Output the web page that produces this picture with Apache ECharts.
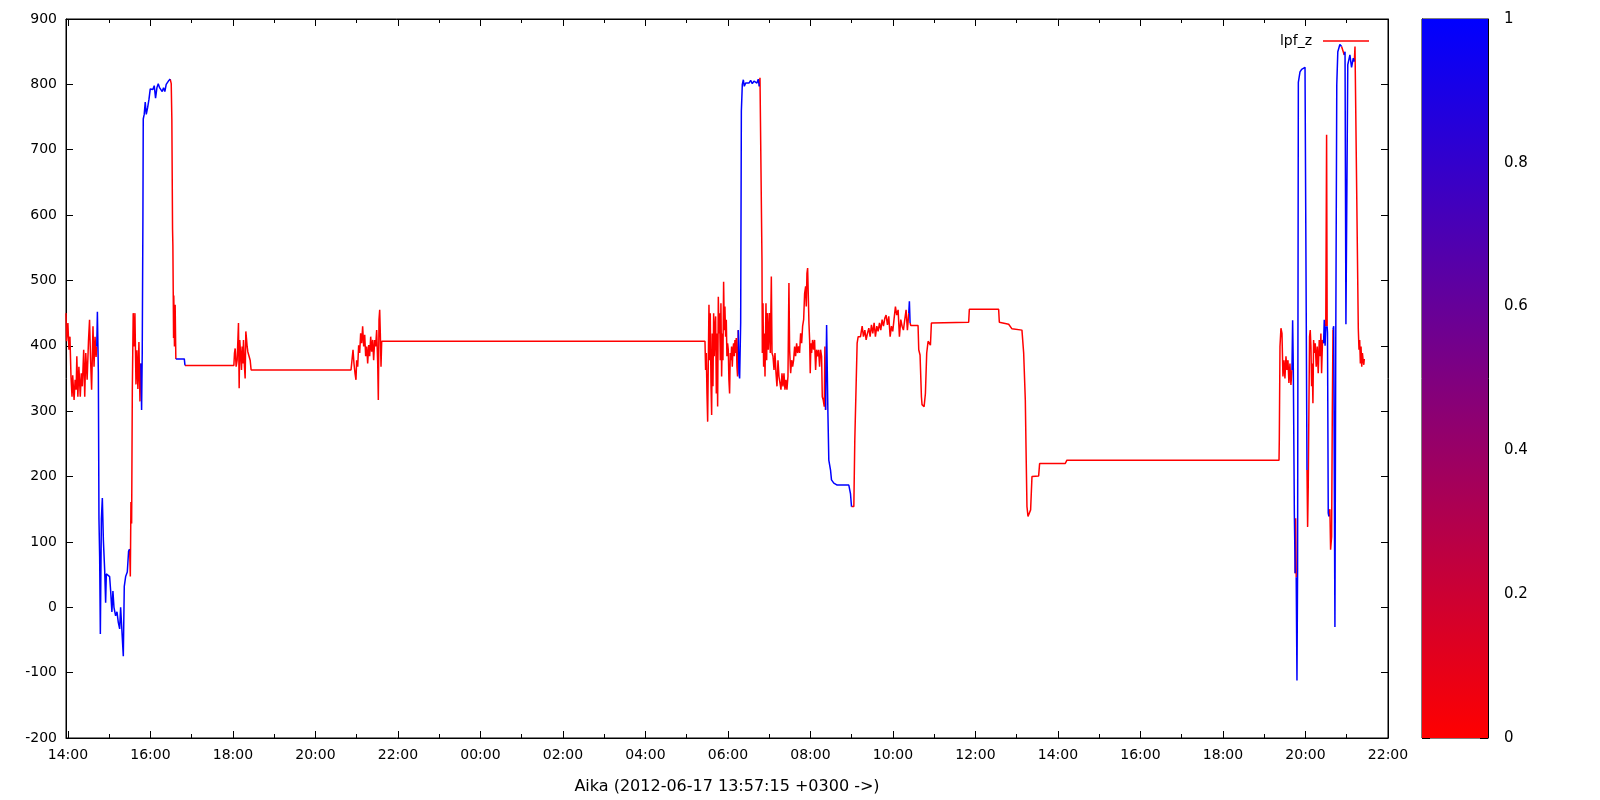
<!DOCTYPE html>
<html><head><meta charset="utf-8">
<script src="https://cdn.jsdelivr.net/npm/echarts@6/dist/echarts.min.js"></script>
<style>html,body{margin:0;padding:0;background:#fff}#c{width:1600px;height:800px}</style>
</head><body><div id="c"></div>
<script>
// ---- data (day-of-month + local time, lpf_z value, colour flag 0=red 1=blue) ----
const times = [
'17 13:57:15','17 13:58:00','17 14:00:00','17 14:01:30','17 14:03:00','17 14:04:30','17 14:06:00','17 14:07:00','17 14:09:00','17 14:10:30',
'17 14:12:00','17 14:13:00','17 14:14:30','17 14:16:00','17 14:18:00','17 14:19:30','17 14:21:00','17 14:23:00','17 14:24:30','17 14:26:00',
'17 14:28:00','17 14:30:00','17 14:31:30','17 14:33:00','17 14:34:30','17 14:36:30','17 14:38:00','17 14:39:30','17 14:41:00','17 14:42:00',
'17 14:42:54','17 14:44:18','17 14:45:12','17 14:46:12','17 14:47:12','17 14:48:42','17 14:50:06','17 14:51:36','17 14:53:30','17 14:54:54',
'17 14:55:54','17 15:00:42','17 15:02:12','17 15:04:00','17 15:05:30','17 15:07:00','17 15:09:24','17 15:11:24','17 15:13:18','17 15:15:18',
'17 15:16:42','17 15:18:42','17 15:20:36','17 15:22:00','17 15:24:00','17 15:26:24','17 15:28:18','17 15:29:48','17 15:30:48','17 15:31:42',
'17 15:32:42','17 15:33:42','17 15:35:00','17 15:36:36','17 15:37:30','17 15:39:00','17 15:40:24','17 15:41:48','17 15:43:18','17 15:44:48',
'17 15:46:12','17 15:47:12','17 15:48:06','17 15:49:06','17 15:49:36','17 15:51:00','17 15:52:30','17 15:54:00','17 15:55:54','17 15:57:54',
'17 15:59:48','17 16:01:42','17 16:03:36','17 16:05:36','17 16:07:30','17 16:09:30','17 16:11:24','17 16:13:18','17 16:15:18','17 16:17:12',
'17 16:19:06','17 16:21:00','17 16:23:00','17 16:25:00','17 16:26:54','17 16:28:48','17 16:30:18','17 16:31:12','17 16:32:12','17 16:32:42',
'17 16:33:42','17 16:34:00','17 16:35:00','17 16:36:00','17 16:37:00','17 16:49:18','17 16:50:18','17 18:01:24','17 18:02:18','17 18:03:18',
'17 18:04:42','17 18:06:12','17 18:08:06','17 18:09:06','17 18:10:00','17 18:11:30','17 18:12:30','17 18:13:24','17 18:14:24','17 18:15:24',
'17 18:16:48','17 18:17:48','17 18:18:48','17 18:19:42','17 18:20:42','17 18:21:42','17 18:23:06','17 18:25:06','17 18:26:30','17 20:51:48',
'17 20:53:12','17 20:54:42','17 20:56:06','17 20:57:36','17 20:59:00','17 21:00:00','17 21:01:30','17 21:02:54','17 21:04:24','17 21:05:48',
'17 21:07:18','17 21:08:42','17 21:10:12','17 21:11:42','17 21:13:06','17 21:14:36','17 21:16:00','17 21:17:30','17 21:18:54','17 21:20:24',
'17 21:21:48','17 21:23:18','17 21:24:42','17 21:26:12','17 21:27:36','17 21:29:06','17 21:30:36','17 21:31:30','17 21:32:30','17 21:33:30',
'17 21:34:24','17 21:35:24','17 21:36:24','18 05:26:36','18 05:27:30','18 05:28:30','18 05:29:30','18 05:30:30','18 05:31:24','18 05:32:24',
'18 05:33:24','18 05:34:18','18 05:35:18','18 05:36:18','18 05:37:12','18 05:38:12','18 05:39:12','18 05:40:06','18 05:41:06','18 05:42:06',
'18 05:43:06','18 05:44:00','18 05:45:00','18 05:46:00','18 05:46:54','18 05:47:54','18 05:48:54','18 05:49:48','18 05:50:48','18 05:51:48',
'18 05:52:42','18 05:53:42','18 05:54:42','18 05:55:36','18 05:56:36','18 05:57:36','18 05:58:30','18 05:59:30','18 06:00:30','18 06:01:24',
'18 06:02:24','18 06:03:24','18 06:04:24','18 06:05:18','18 06:06:18','18 06:07:18','18 06:08:12','18 06:09:12','18 06:10:12','18 06:11:06',
'18 06:12:06','18 06:13:06','18 06:14:00','18 06:15:00','18 06:16:00','18 06:17:00','18 06:18:30','18 06:19:30','18 06:20:54','18 06:22:24',
'18 06:23:48','18 06:25:48','18 06:28:12','18 06:30:36','18 06:33:00','18 06:35:24','18 06:37:54','18 06:40:18','18 06:42:12','18 06:44:06',
'18 06:45:36','18 06:46:36','18 06:48:00','18 06:49:00','18 06:49:30','18 06:50:00','18 06:51:00','18 06:51:54','18 06:52:54','18 06:53:54',
'18 06:55:18','18 06:56:18','18 06:57:18','18 06:58:42','18 07:00:12','18 07:01:36','18 07:03:06','18 07:04:06','18 07:05:30','18 07:07:00',
'18 07:08:24','18 07:09:54','18 07:11:18','18 07:12:48','18 07:14:12','18 07:15:42','18 07:17:06','18 07:18:36','18 07:20:00','18 07:21:30',
'18 07:22:54','18 07:24:24','18 07:25:48','18 07:27:18','18 07:28:42','18 07:29:42','18 07:31:12','18 07:32:36','18 07:34:06','18 07:35:30',
'18 07:37:00','18 07:38:24','18 07:39:54','18 07:41:18','18 07:42:48','18 07:44:12','18 07:45:42','18 07:47:12','18 07:48:36','18 07:50:06',
'18 07:51:30','18 07:53:00','18 07:53:54','18 07:54:54','18 07:55:54','18 07:56:48','18 07:57:48','18 07:58:48','18 07:59:42','18 08:00:42',
'18 08:01:42','18 08:03:06','18 08:04:36','18 08:06:00','18 08:07:30','18 08:08:54','18 08:10:24','18 08:11:48','18 08:13:18','18 08:14:42',
'18 08:16:12','18 08:17:12','18 08:18:36','18 08:20:06','18 08:21:00','18 08:22:00','18 08:23:30','18 08:24:24','18 08:25:24','18 08:26:42',
'18 08:29:12','18 08:30:36','18 08:34:00','18 08:38:54','18 08:55:48','18 08:58:12','18 08:59:42','18 09:03:06','18 09:04:30','18 09:06:30',
'18 09:07:54','18 09:09:24','18 09:12:48','18 09:15:12','18 09:17:06','18 09:19:06','18 09:21:00','18 09:22:54','18 09:24:54','18 09:26:48',
'18 09:28:42','18 09:30:42','18 09:32:36','18 09:34:30','18 09:36:30','18 09:38:24','18 09:40:24','18 09:42:18','18 09:44:12','18 09:46:12',
'18 09:48:06','18 09:50:00','18 09:52:00','18 09:53:54','18 09:55:54','18 09:57:48','18 09:59:42','18 10:01:42','18 10:03:36','18 10:05:30',
'18 10:07:30','18 10:09:24','18 10:11:24','18 10:13:18','18 10:15:12','18 10:17:12','18 10:19:06','18 10:21:00','18 10:23:00','18 10:23:54',
'18 10:24:54','18 10:25:54','18 10:36:30','18 10:37:30','18 10:39:24','18 10:41:24','18 10:42:18','18 10:45:18','18 10:47:12','18 10:49:06',
'18 10:51:06','18 10:53:00','18 10:54:30','18 10:55:54','18 10:56:54','18 11:50:06','18 11:51:06','18 12:33:42','18 12:34:42','18 12:48:18',
'18 12:50:42','18 12:53:06','18 13:07:36','18 13:10:06','18 13:12:30','18 13:13:30','18 13:14:54','18 13:16:24','18 13:18:18','18 13:20:12',
'18 13:22:12','18 13:31:54','18 13:33:18','18 14:10:36','18 14:13:00','18 19:21:30','18 19:21:54','18 19:22:54','18 19:24:18','18 19:25:48',
'18 19:27:12','18 19:28:42','18 19:30:06','18 19:31:36','18 19:33:00','18 19:34:30','18 19:35:54','18 19:37:24','18 19:38:48','18 19:40:18',
'18 19:41:18','18 19:42:18','18 19:43:48','18 19:45:00','18 19:45:42','18 19:46:30','18 19:47:36','18 19:48:30','18 19:49:36','18 19:52:00',
'18 19:54:24','18 19:59:18','18 20:01:42','18 20:02:12','18 20:03:06','18 20:04:00','18 20:05:00','18 20:05:54','18 20:06:54','18 20:07:54',
'18 20:08:54','18 20:09:48','18 20:10:48','18 20:11:48','18 20:12:42','18 20:14:12','18 20:15:36','18 20:17:06','18 20:18:30','18 20:20:00',
'18 20:21:30','18 20:22:24','18 20:23:24','18 20:24:48','18 20:26:18','18 20:27:18','18 20:28:30','18 20:29:30','18 20:30:42','18 20:31:30',
'18 20:32:00','18 20:33:06','18 20:34:00','18 20:35:30','18 20:36:30','18 20:38:00','18 20:39:00','18 20:40:00','18 20:41:00','18 20:42:48',
'18 20:44:00','18 20:45:30','18 20:47:00','18 20:50:00','18 20:52:30','18 20:55:24','18 20:56:24','18 20:57:30','18 20:58:48','18 21:00:18',
'18 21:01:30','18 21:04:36','18 21:07:00','18 21:09:30','18 21:11:00','18 21:12:00','18 21:14:18','18 21:16:48','18 21:17:48','18 21:18:48',
'18 21:19:48','18 21:20:48','18 21:21:48','18 21:22:48','18 21:23:48','18 21:24:48','18 21:25:30'
];
const values = [
450,407,435,394,414,353,322,355,317,348,
333,384,322,368,322,358,338,394,322,389,
348,409,440,378,333,430,368,414,383,399,
452,360,135,77,-41,135,167,103,57,7,
51,47,25,-7,25,0,-13,-7,-23,-33,
0,3,-75,32,47,54,86,89,47,161,
128,331,450,399,450,341,393,334,406,315,
373,302,386,592,747,754,773,754,764,777,
793,795,792,798,779,795,801,795,797,789,
795,789,800,801,806,808,801,747,579,553,
412,477,399,463,380,380,370,370,389,396,
368,378,435,335,409,383,363,399,373,409,
368,350,422,412,399,391,394,378,363,363,
378,394,373,358,348,378,368,401,389,419,
404,430,399,417,384,399,373,401,384,414,
391,409,378,409,399,424,373,317,440,455,
419,368,407,407,363,389,327,284,373,463,
378,450,343,294,419,338,450,384,429,445,
327,419,307,475,419,450,378,465,353,419,
378,498,424,460,414,440,384,404,394,348,
327,389,378,399,368,394,404,384,409,389,
412,368,353,424,358,350,435,759,800,807,
797,802,805,802,806,801,805,806,802,808,
797,810,812,812,531,389,465,368,419,353,
465,378,450,394,450,389,506,389,384,363,
389,358,338,378,353,343,333,358,338,358,
333,348,333,353,496,394,358,378,368,378,
399,384,404,389,399,389,419,404,430,440,
480,491,460,511,519,480,435,409,358,404,
389,409,394,409,363,394,384,394,368,394,
384,322,317,307,399,302,432,429,297,225,
210,195,190,187,187,174,154,154,256,343,
404,414,414,430,414,424,409,419,427,414,
432,419,435,414,430,422,435,424,440,430,
442,447,432,445,414,430,422,442,460,447,
455,414,440,430,424,440,455,424,450,468,
435,431,431,394,386,322,310,307,327,389,
407,409,401,435,436,436,456,456,436,433,
430,426,424,389,317,246,154,139,139,149,
200,201,220,220,225,225,256,399,427,419,
353,378,350,384,363,378,343,373,340,363,
439,363,143,52,136,46,-112,60,803,819,
823,826,826,210,123,185,307,414,424,399,
338,373,312,409,389,404,368,399,358,409,
384,419,358,409,404,440,400,430,723,430,
420,144,139,150,88,108,300,425,430,-30,
400,800,850,861,858,861,845,850,433,435,
830,845,826,840,835,858,861,426,394,409,
373,399,368,389,378,371,380
];
const flags = [
0,0,0,0,0,0,0,0,0,0,
0,0,0,0,0,0,0,0,0,0,
0,0,0,0,0,0,0,0,0,1,
1,1,1,1,1,1,1,1,1,1,
1,1,1,1,1,1,1,1,1,1,
1,1,1,1,1,1,1,0,0,0,
0,0,0,0,0,0,0,0,0,0,
1,1,1,1,1,1,1,1,1,1,
1,1,1,1,1,1,1,1,1,1,
1,1,1,1,1,0,0,0,0,0,
0,0,0,0,1,1,0,0,0,0,
0,0,0,0,0,0,0,0,0,0,
0,0,0,0,0,0,0,0,0,0,
0,0,0,0,0,0,0,0,0,0,
0,0,0,0,0,0,0,0,0,0,
0,0,0,0,0,0,0,0,0,0,
0,0,0,0,0,0,0,0,0,0,
0,0,0,0,0,0,0,0,0,0,
0,0,0,0,0,0,0,0,0,0,
0,0,0,0,0,0,0,0,0,0,
0,0,0,0,0,0,0,0,0,0,
0,0,0,1,1,1,1,1,1,1,
1,1,1,1,1,1,1,1,1,1,
0,0,0,0,0,0,0,0,0,0,
0,0,0,0,0,0,0,0,0,0,
0,0,0,0,0,0,0,0,0,0,
0,0,0,0,0,0,0,0,0,0,
0,0,0,0,0,0,0,0,0,0,
0,0,0,0,0,0,0,0,0,0,
0,0,0,0,0,0,0,0,0,0,
0,0,0,0,0,1,1,1,1,1,
1,1,1,1,1,1,0,0,0,0,
0,0,0,0,0,0,0,0,0,0,
0,0,0,0,0,0,0,0,0,0,
0,0,0,0,0,0,0,0,0,0,
0,0,0,0,0,0,0,0,1,1,
0,0,0,0,0,0,0,0,0,0,
0,0,0,0,0,0,0,0,0,0,
0,0,0,0,0,0,0,0,0,0,
0,0,0,0,0,0,0,0,0,0,
0,0,0,0,0,0,0,0,0,1,
1,1,1,0,0,1,1,1,1,1,
1,1,1,0,0,0,0,0,0,0,
0,0,0,0,0,0,0,0,0,0,
0,0,0,0,1,1,1,0,0,1,
1,1,0,0,0,0,0,1,1,1,
1,1,1,1,0,0,1,1,1,1,
1,1,1,1,0,0,0,0,0,0,
0,0,0,0,0,0,0
];
const seriesName = 'lpf_z';
const xAxisTitle = 'Aika (2012-06-17 13:57:15 +0300 ->)';
const xRange = ['17 13:57:15', '18 22:00:00'];
const yRange = [-200, 900];
const yStep = 100;
const colorRange = [0, 1];
const colorStep = 0.2;
const colorLow = '#ff0000', colorHigh = '#0000ff';

// ---- helpers ----
function toMs(s) {
  const [d, hms] = s.split(' ');
  const [h, m, sec] = hms.split(':').map(Number);
  return new Date(2012, 5, +d, h, m, sec || 0).getTime();
}
const xs = times.map(toMs);
const xMin = toMs(xRange[0]), xMax = toMs(xRange[1]);
const HOUR = 3600000;
const evenHours = [], oddHours = [];
for (let t = toMs('17 14:00:00'); t <= xMax; t += HOUR) {
  (new Date(t).getHours() % 2 === 0 ? evenHours : oddHours).push(t);
}
function pad(n) { return (n < 10 ? '0' : '') + n; }
function hhmm(v) { const d = new Date(v); return pad(d.getHours()) + ':' + pad(d.getMinutes()); }

function buildSegments(flagVal) {
  const out = []; let last = -1;
  for (let i = 0; i < xs.length - 1; i++) {
    if (flags[i] === flagVal) {
      if (last !== i) out.push([xs[i], values[i]]);
      out.push([xs[i + 1], values[i + 1]]);
      last = i + 1;
    } else if (out.length && out[out.length - 1][1] !== null) {
      out.push([xs[i], null]);
    }
  }
  return out;
}

const FONT = 'DejaVu Sans';
const txt = { fontFamily: FONT, fontSize: 14, color: '#000' };
const black = { color: '#000', width: 1 };

const chart = echarts.init(document.getElementById('c'), null, { renderer: 'canvas' });
const option = {
  animation: false,
  backgroundColor: '#fff',
  textStyle: { fontFamily: FONT },
  legend: {
    data: [{ name: seriesName, icon: 'rect' }], right: 226, top: 29, align: 'right',
    itemWidth: 46, itemHeight: 1.5, textStyle: Object.assign({}, txt, { padding: [0, 6, 0, 0] }),
    selectedMode: false
  },
  grid: [
    { left: 66, top: 19, width: 1322, height: 719, show: true, borderColor: '#000', borderWidth: 1, containLabel: false },
    { left: 1422, top: 19, width: 66, height: 719, show: true, borderColor: '#000', borderWidth: 1, containLabel: false },
    { left: 66, top: 19, width: 1322, height: 719, show: false, containLabel: false }
  ],
  xAxis: [
    { gridIndex: 0, type: 'value', min: xMin, max: xMax, position: 'bottom',
      axisLine: { show: true, onZero: false, lineStyle: black },
      axisTick: { show: true, inside: true, length: 7, lineStyle: black, customValues: evenHours },
      axisLabel: Object.assign({ show: true, margin: 10, customValues: evenHours, formatter: hhmm, hideOverlap: false }, txt),
      splitLine: { show: false },
      name: xAxisTitle, nameLocation: 'middle', nameGap: 41,
      nameTextStyle: Object.assign({}, txt, { fontSize: 16 }) },
    { gridIndex: 0, type: 'value', min: xMin, max: xMax, position: 'top',
      axisLine: { show: true, onZero: false, lineStyle: black },
      axisTick: { show: true, inside: true, length: 7, lineStyle: black, customValues: evenHours },
      axisLabel: { show: false }, splitLine: { show: false } },
    { gridIndex: 1, type: 'category', data: ['c'], boundaryGap: true,
      axisLine: { show: false, onZero: false }, axisTick: { show: false }, axisLabel: { show: false }, splitLine: { show: false } },
    { gridIndex: 2, type: 'value', min: xMin, max: xMax, position: 'bottom',
      axisLine: { show: false, onZero: false },
      axisTick: { show: true, inside: true, length: 4, lineStyle: black, customValues: oddHours },
      axisLabel: { show: false }, splitLine: { show: false } },
    { gridIndex: 2, type: 'value', min: xMin, max: xMax, position: 'top',
      axisLine: { show: false, onZero: false },
      axisTick: { show: true, inside: true, length: 4, lineStyle: black, customValues: oddHours },
      axisLabel: { show: false }, splitLine: { show: false } }
  ],
  yAxis: [
    { gridIndex: 0, type: 'value', min: yRange[0], max: yRange[1], interval: yStep, position: 'left',
      axisLine: { show: true, onZero: false, lineStyle: black },
      axisTick: { show: true, inside: true, length: 7, lineStyle: black },
      axisLabel: Object.assign({ show: true, margin: 9 }, txt), splitLine: { show: false } },
    { gridIndex: 0, type: 'value', min: yRange[0], max: yRange[1], interval: yStep, position: 'right',
      axisLine: { show: true, onZero: false, lineStyle: black },
      axisTick: { show: true, inside: true, length: 7, lineStyle: black },
      axisLabel: { show: false }, splitLine: { show: false } },
    { gridIndex: 1, type: 'value', min: colorRange[0], max: colorRange[1], interval: colorStep, position: 'right',
      axisLine: { show: true, onZero: false, lineStyle: black },
      axisTick: { show: true, inside: true, length: 8, lineStyle: black },
      axisLabel: Object.assign({ show: true, margin: 16, align: 'left',
        formatter: v => (Math.round(v * 10) / 10).toString() }, txt, { fontSize: 15 }),
      splitLine: { show: false } },
    { gridIndex: 1, type: 'value', min: colorRange[0], max: colorRange[1], interval: colorStep, position: 'left',
      axisLine: { show: true, onZero: false, lineStyle: black },
      axisTick: { show: true, inside: true, length: 8, lineStyle: black },
      axisLabel: { show: false }, splitLine: { show: false } },
    { gridIndex: 2, type: 'value', min: yRange[0], max: yRange[1], show: false }
  ],
  series: [
    { name: seriesName, type: 'line', xAxisIndex: 0, yAxisIndex: 0, data: buildSegments(0),
      showSymbol: false, symbol: 'none', connectNulls: false,
      lineStyle: { color: colorLow, width: 1.5 }, itemStyle: { color: colorLow }, z: 3 },
    { name: seriesName, type: 'line', xAxisIndex: 0, yAxisIndex: 0, data: buildSegments(1),
      showSymbol: false, symbol: 'none', connectNulls: false,
      lineStyle: { color: colorHigh, width: 1.5 }, itemStyle: { color: colorHigh }, z: 4 },
    { name: 'colorbar', type: 'bar', xAxisIndex: 2, yAxisIndex: 2, data: [colorRange[1]],
      barWidth: '100%', silent: true, z: 1,
      itemStyle: { color: new echarts.graphic.LinearGradient(0, 0, 0, 1,
        [{ offset: 0, color: colorHigh }, { offset: 1, color: colorLow }]) } }
  ]
};
chart.setOption(option);
</script>
</body></html>
